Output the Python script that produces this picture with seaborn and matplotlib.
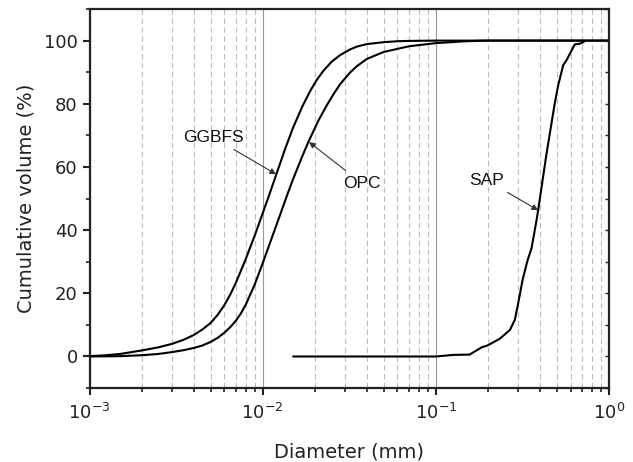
"""Cumulative particle size distribution of OPC, GGBFS and SAP."""

import matplotlib

matplotlib.use("Agg")
import matplotlib.pyplot as plt
import seaborn as sns
from matplotlib.ticker import FixedLocator, LogLocator, MultipleLocator

# GGBFS (upper fine curve)
ggbfs_d = [1e-3, 1.25e-3, 1.5e-3, 2e-3, 2.5e-3, 3e-3, 3.5e-3, 4e-3, 4.5e-3, 5e-3,
           5.5e-3, 6e-3, 6.5e-3, 7e-3, 7.9e-3, 9e-3, 1e-2, 1.1e-2, 1.2e-2,
           1.35e-2, 1.5e-2, 1.7e-2, 1.88e-2, 2.05e-2, 2.24e-2, 2.5e-2, 2.8e-2,
           3.2e-2, 3.5e-2, 4e-2, 5e-2, 6e-2, 7e-2, 1e-1, 1.0]
ggbfs_v = [0.1, 0.4, 0.8, 1.9, 2.9, 4.0, 5.3, 6.8, 8.6, 10.6,
           13.2, 16.2, 19.6, 23.3, 30.2, 38.3, 45.3, 51.7, 57.7,
           65.8, 72.5, 79.3, 84.0, 87.5, 90.4, 93.3, 95.4,
           97.2, 98.1, 98.9, 99.5, 99.8, 99.9, 100.0, 100.0]

# OPC (lower fine curve)
opc_d = [1e-3, 1.5e-3, 2e-3, 2.5e-3, 3e-3, 3.5e-3, 4e-3, 4.5e-3, 5e-3, 5.5e-3,
         6e-3, 6.5e-3, 7e-3, 7.5e-3, 8e-3, 9e-3, 1e-2, 1.1e-2, 1.26e-2, 1.4e-2,
         1.5e-2, 1.7e-2, 1.85e-2, 2.1e-2, 2.34e-2, 2.55e-2, 2.8e-2, 3.2e-2,
         3.5e-2, 4e-2, 5e-2, 7e-2, 1e-1, 1.5e-1, 2e-1, 1.0]
opc_v = [0.0, 0.1, 0.4, 0.8, 1.4, 2.0, 2.7, 3.5, 4.6, 5.9,
         7.5, 9.3, 11.3, 13.7, 16.5, 22.8, 29.5, 35.8, 44.8, 51.8,
         56.2, 63.6, 68.3, 74.7, 79.4, 82.8, 86.2, 89.9,
         91.9, 94.2, 96.4, 98.2, 99.2, 99.8, 100.0, 100.0]

# SAP (coarse curve)
sap_d = [0.015, 0.05, 0.1, 0.126, 0.157, 0.168, 0.184, 0.199, 0.234, 0.268, 0.286,
         0.299, 0.317, 0.339, 0.357, 0.382, 0.39, 0.436, 0.486, 0.509, 0.544,
         0.569, 0.635, 0.678, 0.716]
sap_v = [0.0, 0.0, 0.0, 0.5, 0.6, 1.6, 2.9, 3.5, 5.6, 8.4, 11.6,
         16.8, 24.2, 30.5, 34.2, 43.2, 46.3, 64.2, 80.0, 85.8, 92.2,
         93.8, 98.8, 99.0, 99.6]

x_ticks = [1e-3, 1e-2, 1e-1, 1e0]
x_labels = ["$10^{-3}$", "$10^{-2}$", "$10^{-1}$", "$10^{0}$"]
y_ticks = [0, 20, 40, 60, 80, 100]

sns.set_theme(style="ticks")
plt.rcParams["font.family"] = ["DejaVu Sans"]

fig = plt.figure(figsize=(6.33, 4.62), dpi=100)
ax = fig.add_axes([0.1414, 0.160, 0.8206, 0.8205])

for d, v in [(ggbfs_d, ggbfs_v), (opc_d, opc_v), (sap_d, sap_v)]:
    sns.lineplot(x=d, y=v, ax=ax, color="black", lw=1.5, sort=False,
                 estimator=None, solid_joinstyle="round")

ax.set_xscale("log")
ax.set_xlim(1e-3, 1)
ax.set_ylim(-10, 110)

ax.xaxis.set_major_locator(FixedLocator(x_ticks))
ax.set_xticklabels(x_labels)
ax.xaxis.set_minor_locator(LogLocator(base=10, subs=range(2, 10)))
ax.yaxis.set_major_locator(FixedLocator(y_ticks))
ax.yaxis.set_minor_locator(MultipleLocator(10))

ax.grid(True, which="major", axis="x", color="#9a9a9a", lw=0.8, ls="-")
ax.grid(True, which="minor", axis="x", color="#bdbdbd", lw=0.8, ls=(0, (5, 3)))
ax.grid(False, axis="y")

for s in ax.spines.values():
    s.set_linewidth(1.6)
    s.set_color("#222222")

ax.tick_params(axis="both", which="major", direction="out", length=5, width=1.5,
               labelsize=13, color="#222222", labelcolor="#222222")
ax.tick_params(axis="both", which="minor", direction="out", length=3, width=1.2,
               color="#222222")
ax.tick_params(axis="x", which="major", pad=6)

# right spine carries inward ticks every 10
rax = ax.twinx()
rax.set_ylim(ax.get_ylim())
rax.yaxis.set_major_locator(MultipleLocator(10))
rax.tick_params(axis="y", direction="in", length=3, width=1.0, labelright=False,
                color="#222222")
for s in rax.spines.values():
    s.set_visible(False)

ax.set_xlabel("Diameter (mm)", fontsize=14, color="#222222", labelpad=14)
ax.set_ylabel("Cumulative volume (%)", fontsize=14, color="#222222", labelpad=6)

arrow = dict(arrowstyle="-|>", color="#333333", lw=0.8, mutation_scale=9,
             shrinkA=2, shrinkB=0)
lab = dict(fontsize=12.5, family=["Liberation Sans", "DejaVu Sans"],
           ha="center", va="center", color="#111111")
ax.annotate("GGBFS", xy=(0.01195, 57.7), xytext=(5.17e-3, 69.4), arrowprops=arrow, **lab)
ax.annotate("OPC", xy=(0.01853, 67.9), xytext=(0.0373, 54.9), arrowprops=arrow, **lab)
ax.annotate("SAP", xy=(0.39, 46.3), xytext=(0.1965, 55.8), arrowprops=arrow, **lab)

fig.savefig("out.png", dpi=100)
